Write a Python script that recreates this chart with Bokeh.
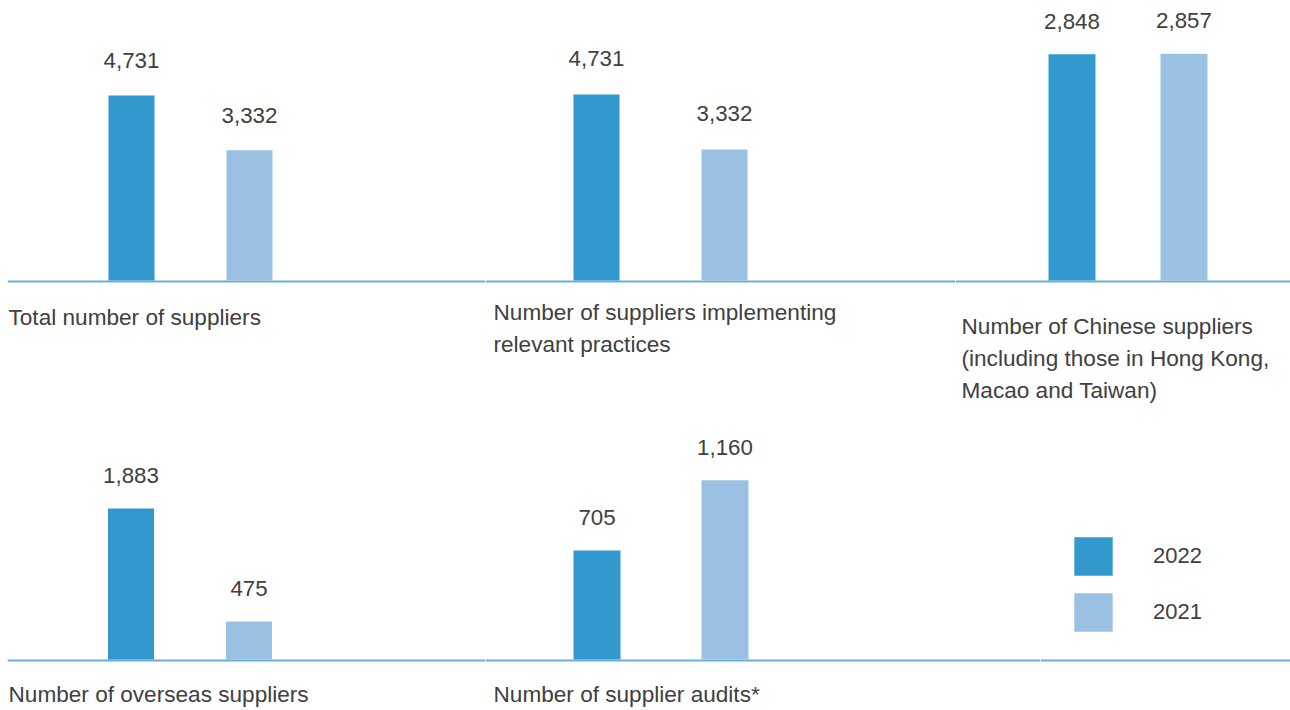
from bokeh.plotting import figure
from bokeh.layouts import row, column
from bokeh.models import Range1d, Span, Legend, LegendItem, ColumnDataSource
from bokeh.core.properties import value
from bokeh.embed import file_html
from bokeh.resources import INLINE

# ---------------- data ----------------
years = ["2022", "2021"]
categories = [
    "Total number of suppliers",
    "Number of suppliers implementing\nrelevant practices",
    "Number of Chinese suppliers\n(including those in Hong Kong,\nMacao and Taiwan)",
    "Number of overseas suppliers",
    "Number of supplier audits*",
]
values_2022 = [4731, 4731, 2848, 1883, 705]
values_2021 = [3332, 3332, 2857, 475, 1160]

# ---------------- style ----------------
DARK = "#3199cd"
LIGHT = "#9ac1e1"
LINE = "#6aaed9"
TEXT = "#404040"
FONT = "Liberation Sans"
FS_LABEL = "22.6px"
FS_VALUE = "22.3px"
FS_LEGEND = "22px"
LINE_GAP = 32     # px between label lines

# per-panel layout: frame width/height, left border, axis px from top,
# px per unit, first bar centre, px between bars, bar width, label left,
# label offset below axis, value-label offset above bar
layout = [
    dict(w=478, bl=7, h=420, base=280, s=0.0391, c0=124.0, d=118, bw=46, lx=1, ly=37, vg=35),
    dict(w=470, bl=0, h=420, base=280, s=0.0393, c0=111.0, d=128, bw=46, lx=8, ly=32, vg=36),
    dict(w=335, bl=0, h=420, base=280, s=0.0794, c0=116.5, d=112, bw=47, lx=6, ly=46, vg=33),
    dict(w=478, bl=7, h=290, base=239, s=0.0802, c0=123.5, d=118, bw=46, lx=1, ly=35, vg=33),
    dict(w=555, bl=0, h=290, base=239, s=0.1545, c0=111.5, d=128, bw=47, lx=8, ly=35, vg=33),
]


def base_fig(w, h, xr, yr, bl=0):
    p = figure(width=w + bl, height=h, output_backend="svg", toolbar_location=None,
               x_range=xr, y_range=yr, x_axis_type=None, y_axis_type=None,
               min_border=0, min_border_left=bl, outline_line_color=None,
               background_fill_color="white", border_fill_color="white")
    p.grid.visible = False
    return p


def axis_line(p, s):
    # baseline drawn just below the bars' foot
    p.add_layout(Span(location=-1 / s, dimension="width", line_color=LINE,
                      line_width=2, level="underlay"))


def panel(i, cfg):
    W, H, base, s = cfg["w"], cfg["h"], cfg["base"], cfg["s"]
    c0, d = cfg["c0"], cfg["d"]
    p = base_fig(W, H, Range1d(-c0 / d, (W - c0) / d),
                 Range1d(-(H - base) / s, base / s), cfg["bl"])
    axis_line(p, s)
    vals = [values_2022[i], values_2021[i]]
    src = ColumnDataSource(dict(
        x=[0, 1], top=vals, color=[DARK, LIGHT],
        label=[f"{v:,}" for v in vals],
        ly=[v + cfg["vg"] / s for v in vals],
    ))
    p.vbar(x="x", top="top", bottom=0, width=cfg["bw"] / d, fill_color="color",
           line_color=None, source=src)
    p.text(x="x", y="ly", text="label", source=src, text_align="center",
           text_baseline="alphabetic", text_font=value(FONT),
           text_font_size=FS_VALUE, text_color=TEXT)
    lines = categories[i].split("\n")
    p.text(x=[(cfg["lx"] - c0) / d] * len(lines),
           y=[-(cfg["ly"] + k * LINE_GAP) / s for k in range(len(lines))],
           text=lines, text_align="left", text_baseline="alphabetic",
           text_font=value(FONT), text_font_size=FS_LABEL, text_color=TEXT)
    return p


panels = [panel(i, cfg) for i, cfg in enumerate(layout)]

# legend panel (shares the bottom row's baseline)
LEG_H, LEG_BASE = 290, 239
pl = base_fig(250, LEG_H, Range1d(0, 1), Range1d(-(LEG_H - LEG_BASE), LEG_BASE))
axis_line(pl, 1.0)
lsrc = ColumnDataSource(dict(x=list(range(len(categories))),
                             v22=values_2022, v21=values_2021))
r22 = pl.vbar(x="x", top="v22", width=0.1, fill_color=DARK, line_color=None,
              source=lsrc, visible=False)
r21 = pl.vbar(x="x", top="v21", width=0.1, fill_color=LIGHT, line_color=None,
              source=lsrc, visible=False)
leg = Legend(items=[LegendItem(label=years[0], renderers=[r22]),
                    LegendItem(label=years[1], renderers=[r21])],
             location=(29, 74), glyph_width=48, glyph_height=48, spacing=8,
             label_standoff=36, padding=0, margin=0, border_line_color=None,
             background_fill_alpha=0, label_text_font=FONT,
             label_text_font_size=FS_LEGEND, label_text_color=TEXT,
             label_height=48, inactive_fill_alpha=0)
pl.add_layout(leg)

lay = column(row(panels[0], panels[1], panels[2]),
             row(panels[3], panels[4], pl))

open("out.html", "w").write(file_html(lay, INLINE))
